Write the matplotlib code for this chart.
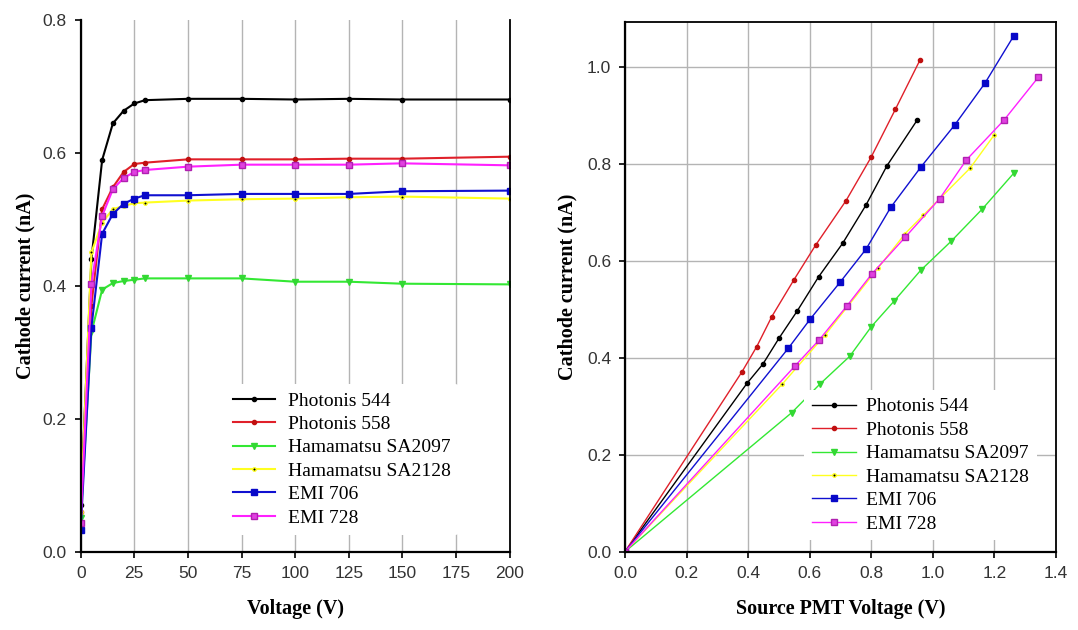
import matplotlib
matplotlib.use("Agg")
import matplotlib.pyplot as plt

# ---------------- Left panel data: cathode current vs voltage ----------------
volt = [0, 5, 10, 15, 20, 25, 30, 50, 75, 100, 125, 150, 200]
p544_left = [0.07, 0.44, 0.589, 0.644, 0.663, 0.674, 0.679, 0.681, 0.681, 0.680, 0.681, 0.680, 0.680]
p558_left = [0.06, 0.37, 0.515, 0.548, 0.571, 0.583, 0.585, 0.590, 0.590, 0.590, 0.591, 0.591, 0.594]
sa2097_left = [0.05, 0.33, 0.394, 0.404, 0.407, 0.409, 0.411, 0.411, 0.411, 0.406, 0.406, 0.403, 0.402]
sa2128_left = [0.06, 0.45, 0.495, 0.515, 0.520, 0.524, 0.525, 0.528, 0.530, 0.531, 0.533, 0.534, 0.531]
emi706_left = [0.033, 0.337, 0.478, 0.508, 0.523, 0.531, 0.536, 0.536, 0.538, 0.538, 0.538, 0.542, 0.543]
emi728_left = [0.043, 0.403, 0.505, 0.545, 0.562, 0.571, 0.574, 0.579, 0.582, 0.582, 0.582, 0.584, 0.581]

# ---------------- Right panel data: cathode current vs source PMT voltage ----------------
p544_x = [0.0, 0.396, 0.448, 0.501, 0.560, 0.629, 0.707, 0.782, 0.851, 0.949]
p544_y = [0.0, 0.347, 0.387, 0.441, 0.497, 0.567, 0.636, 0.714, 0.796, 0.890]
p558_x = [0.0, 0.380, 0.428, 0.477, 0.548, 0.619, 0.718, 0.799, 0.878, 0.959]
p558_y = [0.0, 0.371, 0.423, 0.485, 0.560, 0.632, 0.724, 0.813, 0.912, 1.015]
sa2097_x = [0.0, 0.542, 0.632, 0.730, 0.800, 0.873, 0.960, 1.059, 1.161, 1.262]
sa2097_y = [0.0, 0.287, 0.345, 0.403, 0.464, 0.516, 0.580, 0.640, 0.707, 0.780]
sa2128_x = [0.0, 0.510, 0.650, 0.822, 0.910, 0.969, 1.121, 1.200]
sa2128_y = [0.0, 0.345, 0.447, 0.585, 0.656, 0.694, 0.791, 0.860]
emi706_x = [0.0, 0.531, 0.602, 0.699, 0.783, 0.863, 0.962, 1.071, 1.169, 1.263]
emi706_y = [0.0, 0.420, 0.480, 0.556, 0.624, 0.710, 0.794, 0.880, 0.966, 1.064]
emi728_x = [0.0, 0.552, 0.631, 0.721, 0.802, 0.911, 1.022, 1.109, 1.231, 1.342]
emi728_y = [0.0, 0.383, 0.437, 0.507, 0.573, 0.649, 0.728, 0.808, 0.890, 0.978]

labels = ["Photonis 544", "Photonis 558", "Hamamatsu SA2097", "Hamamatsu SA2128", "EMI 706", "EMI 728"]

styles = [
    dict(color="black", marker="o", ms=3, mfc="black", mec="black"),
    dict(color="#e0202a", marker="o", ms=3, mfc="#c01010", mec="#c01010"),
    dict(color="#33e833", marker="v", ms=5, mfc="#33d833", mec="#33d833"),
    dict(color="#ffff20", marker="o", ms=2.5, mfc="black", mec="#ffff20"),
    dict(color="#1010d0", marker="s", ms=5, mfc="#0808c8", mec="#0808c8"),
    dict(color="#ff20ff", marker="s", ms=5, mfc="#e040e0", mec="#b020b0"),
]

serif = ["Liberation Serif", "DejaVu Serif"]
sans = ["Liberation Sans", "DejaVu Sans"]

fig = plt.figure(figsize=(10.78, 6.30), dpi=100)
fig.patch.set_facecolor("white")

W, H = 1078.0, 630.0
axL = fig.add_axes([80.7 / W, 1 - 551.7 / H, (509.5 - 80.7) / W, (551.7 - 19.7) / H])
axR = fig.add_axes([625.0 / W, 1 - 551.7 / H, (1056.0 - 625.0) / W, (551.7 - 21.7) / H])

left_series = [p544_left, p558_left, sa2097_left, sa2128_left, emi706_left, emi728_left]
for ys, st, lab in zip(left_series, styles, labels):
    axL.plot(volt, ys, lw=1.5, label=lab, **st)

right_series = [(p544_x, p544_y), (p558_x, p558_y), (sa2097_x, sa2097_y),
                (sa2128_x, sa2128_y), (emi706_x, emi706_y), (emi728_x, emi728_y)]
for (xs, ys), st, lab in zip(right_series, styles, labels):
    axR.plot(xs, ys, lw=1.0, label=lab, **st)

# Left axes formatting
axL.set_xlim(0, 200)
axL.set_ylim(0, 0.8)
axL.set_xticks(range(0, 201, 25))
axL.set_yticks([0.0, 0.2, 0.4, 0.6, 0.8])
axL.set_yticklabels(["0.0", "0.2", "0.4", "0.6", "0.8"])
axL.grid(axis="x", color="#b4b4b4", lw=1.0)
axL.spines["top"].set_visible(False)
axL.set_xlabel("Voltage (V)", family=serif, fontweight="bold", fontsize=14.5, labelpad=13)
axL.set_ylabel("Cathode current (nA)", family=serif, fontweight="bold", fontsize=14.5, labelpad=5)

# Right axes formatting
axR.set_xlim(0, 1.4)
axR.set_ylim(0, 1.093)
axR.set_xticks([0.0, 0.2, 0.4, 0.6, 0.8, 1.0, 1.2, 1.4])
axR.set_xticklabels(["0.0", "0.2", "0.4", "0.6", "0.8", "1.0", "1.2", "1.4"])
axR.set_yticks([0.0, 0.2, 0.4, 0.6, 0.8, 1.0])
axR.set_yticklabels(["0.0", "0.2", "0.4", "0.6", "0.8", "1.0"])
axR.grid(True, color="#b4b4b4", lw=1.0)
axR.set_xlabel("Source PMT Voltage (V)", family=serif, fontweight="bold", fontsize=14.5, labelpad=13)
axR.set_ylabel("Cathode current (nA)", family=serif, fontweight="bold", fontsize=14.5, labelpad=7)

for ax in (axL, axR):
    ax.set_axisbelow(True)
    for s in ("left", "bottom"):
        ax.spines[s].set_linewidth(1.6)
        ax.spines[s].set_color("black")
    for s in ("top", "right"):
        ax.spines[s].set_linewidth(1.3)
        ax.spines[s].set_color("black")
    ax.tick_params(direction="out", length=4, width=1.2, labelsize=12.5, colors="black", pad=6)
    for t in ax.get_xticklabels() + ax.get_yticklabels():
        t.set_family(sans)
        t.set_color("#333333")

legL = axL.legend(loc="upper left", bbox_to_anchor=(0.336, 0.315), frameon=True,
                  prop={"family": serif, "size": 14}, handlelength=2.2, handletextpad=0.65,
                  labelspacing=0.3, borderpad=0.4, borderaxespad=0)
legL.get_frame().set_facecolor("white")
legL.get_frame().set_edgecolor("none")
legL.get_frame().set_alpha(1.0)

legR = axR.legend(loc="upper left", bbox_to_anchor=(0.415, 0.305), frameon=True,
                  prop={"family": serif, "size": 14}, handlelength=2.3, handletextpad=0.5,
                  labelspacing=0.3, borderpad=0.4, borderaxespad=0)
legR.get_frame().set_facecolor("white")
legR.get_frame().set_edgecolor("none")
legR.get_frame().set_alpha(1.0)

fig.savefig("out.png", dpi=100, facecolor="white")
